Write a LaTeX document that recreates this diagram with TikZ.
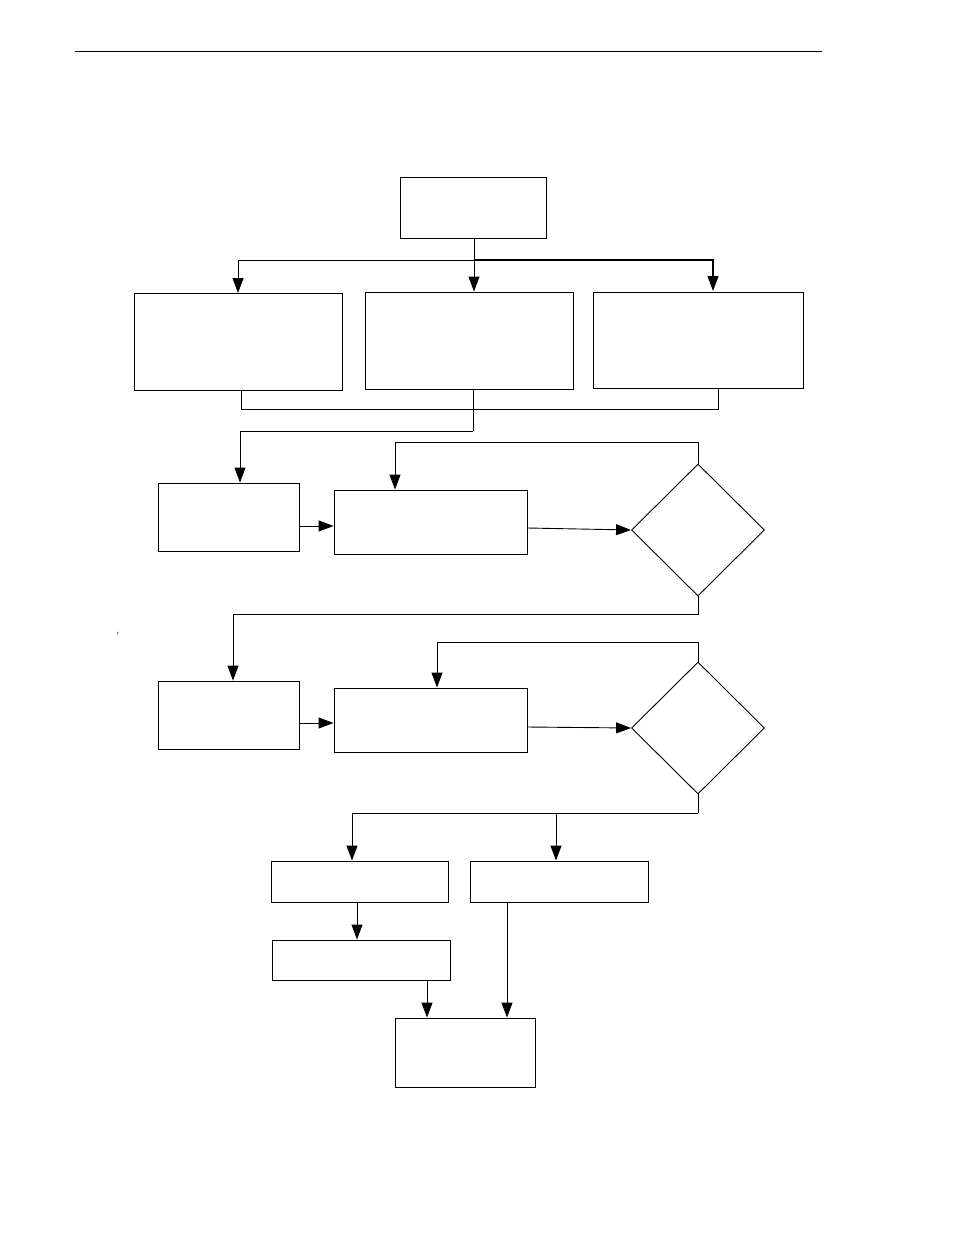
\documentclass[tikz,border=0pt]{standalone}
\usetikzlibrary{arrows.meta,shapes.geometric}
\begin{document}
\begin{tikzpicture}[x=1pt,y=-1pt,
  box/.style={draw,line width=0.9pt,inner sep=0pt},
  dia/.style={draw,line width=0.9pt,diamond,inner sep=0pt,minimum width=133pt,minimum height=132pt},
  ln/.style={line width=0.9pt},
  ar/.style={line width=0.9pt,-{Triangle[length=15pt,width=11pt]}}]
\useasboundingbox (0,0) rectangle (954,1235);
\draw[line width=0.6pt] (75,51) -- (822,51);
\newcommand{\bx}[5]{\node[box,minimum width=#4-#2,minimum height=#5-#3] (#1) at ({(#2+#4)/2},{(#3+#5)/2}) {};}
\bx{A}{400}{177}{546}{238}
\bx{B1}{134}{293}{342}{390}
\bx{B2}{365}{292}{573}{389}
\bx{B3}{593}{292}{803}{388}
\bx{C1}{158}{483}{299}{551}
\bx{D1}{334}{490}{527}{554}
\bx{C2}{158}{681}{299}{749}
\bx{D2}{334}{688}{527}{752}
\bx{F1}{271}{861}{448}{902}
\bx{F2}{470}{861}{648}{902}
\bx{G}{272}{940}{450}{980}
\bx{H}{395}{1018}{535}{1087}
\node[dia] (E1) at (698,530) {};
\node[dia] (E2) at (698,728) {};
\node[font=\small] (tk) at (118,636) {$'$};
% top fan
\coordinate (j1) at (474,260);
\draw[ln] (A.south -| j1) -- (j1);
\draw[ar] (j1) -- (j1 |- B2.north);
\draw[ar] (j1) -| (238,293) coordinate (t1);
\draw[ar,line width=1.3pt] (j1) -| (713,291) coordinate (t3);
% merge
\draw[ln] (241,390) |- (718,409) -- (718,388);
\draw[ln] (473,389) -- (473,431);
\draw[ar] (473,431) -| (C1.north -| 240,0);
\draw[ar] (C1.east |- 0,526) -- (D1.west |- 0,526);
\draw[ar] (D1.east |- 0,528) -- (E1.west);
\draw[ar] (E1.north) -- (698,442) -| (D1.north -| 395,0);
\draw[ar] (E1.south) -- (698,614) -| (C2.north -| 233,0);
\draw[ar] (C2.east |- 0,723) -- (D2.west |- 0,723);
\draw[ar] (D2.east |- 0,727) -- (E2.west);
\draw[ar] (E2.north) -- (698,642) -| (D2.north -| 437,0);
\draw[ln] (E2.south) -- (698,813);
\draw[ar] (698,813) -| (F1.north -| 352,0);
\draw[ar] (556,813) -- (F2.north -| 556,0);
\draw[ar] (F1.south -| 357,0) -- (G.north -| 357,0);
\draw[ar] (G.south -| 427,0) -- (H.north -| 427,0);
\draw[ar] (F2.south -| 507,0) -- (H.north -| 507,0);
\end{tikzpicture}
\end{document}
